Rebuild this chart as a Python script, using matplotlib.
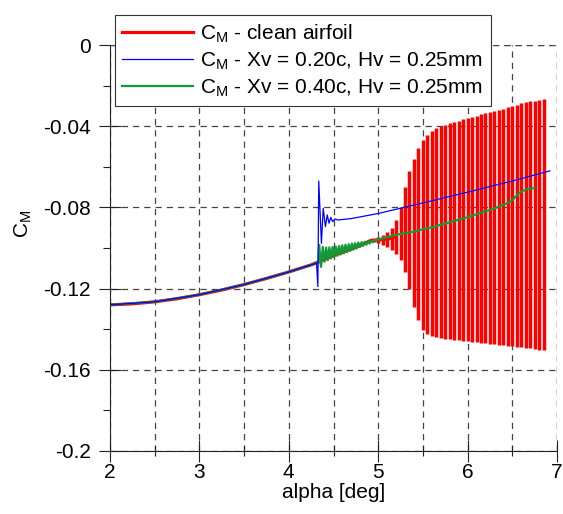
import numpy as np
import matplotlib
matplotlib.use("Agg")
import matplotlib.pyplot as plt
from matplotlib.ticker import MultipleLocator, FuncFormatter

plt.rcParams['font.family'] = ['Liberation Sans', 'DejaVu Sans']
plt.rcParams['mathtext.fontset'] = 'custom'
plt.rcParams['mathtext.rm'] = 'Liberation Sans'
plt.rcParams['mathtext.it'] = 'Liberation Sans'
plt.rcParams['axes.unicode_minus'] = False

# clean airfoil: mean curve
red_alpha = [2.0, 2.25, 2.5, 2.75, 3.0, 3.25, 3.5, 3.75, 4.0, 4.25, 4.5, 4.75, 4.92,
             5.0, 5.1, 5.2]
red_cm = [-0.1280, -0.1275, -0.1265, -0.1250, -0.1230, -0.1207, -0.1180, -0.1150,
          -0.1118, -0.1083, -0.1038, -0.0997, -0.0962, -0.0960, -0.0957, -0.0945]

# clean airfoil: oscillation, one max/min pair per cycle
red_osc_alpha = [4.95, 5.00, 5.05, 5.10, 5.15, 5.20, 5.25, 5.30, 5.35, 5.40,
                 5.45, 5.50, 5.55, 5.60, 5.65, 5.70, 5.75, 5.80, 5.85, 5.90,
                 5.95, 6.00, 6.05, 6.10, 6.15, 6.20, 6.25, 6.30, 6.35, 6.40,
                 6.45, 6.50, 6.55, 6.60, 6.65, 6.70, 6.75, 6.80, 6.85]
red_osc_max = [-0.0955, -0.0945, -0.0935, -0.0920, -0.0900, -0.0860, -0.0800, -0.0700,
               -0.0620, -0.0560, -0.0505, -0.0470, -0.0445, -0.0425, -0.0410, -0.0400,
               -0.0392, -0.0385, -0.0378, -0.0372, -0.0366, -0.0360, -0.0354, -0.0348,
               -0.0342, -0.0337, -0.0331, -0.0325, -0.0319, -0.0313, -0.0306, -0.0300,
               -0.0294, -0.0288, -0.0283, -0.0278, -0.0274, -0.0270, -0.0267]
red_osc_min = [-0.0968, -0.0975, -0.0985, -0.0995, -0.1010, -0.1030, -0.1060, -0.1120,
               -0.1200, -0.1290, -0.1355, -0.1405, -0.1425, -0.1435, -0.1440, -0.1443,
               -0.1446, -0.1450, -0.1452, -0.1455, -0.1458, -0.1460, -0.1462, -0.1465,
               -0.1467, -0.1470, -0.1472, -0.1475, -0.1477, -0.1480, -0.1482, -0.1485,
               -0.1487, -0.1490, -0.1492, -0.1495, -0.1497, -0.1500, -0.1502]

# vortex generator at 0.20c
blue_alpha = [2.0, 2.5, 3.0, 3.5, 4.0, 4.25, 4.31, 4.325, 4.335, 4.365, 4.385, 4.41,
              4.43, 4.45, 4.47, 4.49, 4.515, 4.55, 4.7, 5.0, 5.5, 6.0, 6.5, 6.92]
blue_cm = [-0.1280, -0.1265, -0.1230, -0.1180, -0.1118, -0.1083, -0.1075, -0.1190,
           -0.0670, -0.0977, -0.0805, -0.0895, -0.0837, -0.0878, -0.0849, -0.0870,
           -0.0857, -0.0862, -0.0855, -0.0830, -0.0778, -0.0725, -0.0670, -0.0620]

# vortex generator at 0.40c
green_alpha = [2.0, 2.5, 3.0, 3.5, 4.0, 4.25, 4.33,
               4.340, 4.360, 4.380, 4.400, 4.418, 4.436, 4.454, 4.472, 4.490, 4.508,
               4.526, 4.544, 4.562, 4.580, 4.598, 4.616, 4.634, 4.652, 4.670, 4.688,
               4.706, 4.724, 4.742, 4.760, 4.778, 4.796, 4.814, 4.832, 4.850, 4.868,
               4.886, 4.904, 4.922, 4.940, 4.960,
               5.0, 5.2, 5.39, 5.6, 5.77, 6.0, 6.14, 6.3, 6.44, 6.5, 6.55, 6.6, 6.66, 6.75]
green_cm = [-0.1280, -0.1265, -0.1230, -0.1180, -0.1118, -0.1083, -0.1075,
            -0.0985, -0.1093, -0.0995, -0.1068, -0.0998, -0.1060, -0.0997, -0.1052, -0.0995,
            -0.1045, -0.0993, -0.1038, -0.0990, -0.1032, -0.0987, -0.1026, -0.0984, -0.1020,
            -0.0981, -0.1014, -0.0978, -0.1008, -0.0976, -0.1002, -0.0973, -0.0996, -0.0971,
            -0.0990, -0.0969, -0.0984, -0.0967, -0.0978, -0.0965, -0.0972, -0.0963,
            -0.0958, -0.0935, -0.0920, -0.0898, -0.0877, -0.0848, -0.0828, -0.0805,
            -0.0780, -0.0765, -0.0740, -0.0722, -0.0711, -0.0704]

fig = plt.figure(figsize=(5.63, 5.14), dpi=100)
ax = fig.add_axes([110 / 563, 1 - 451 / 514, 447 / 563, 406 / 514])

l_red, = ax.plot(red_alpha, red_cm, color='#ff0000', lw=2.3)
ax.vlines(red_osc_alpha, red_osc_min, red_osc_max, color='#ff0000', lw=2.5,
          capstyle='butt')
l_green, = ax.plot(green_alpha, green_cm, color='#129a36', lw=1.6)
l_blue, = ax.plot(blue_alpha, blue_cm, color='#0000ff', lw=0.9)

ax.set_xlim(2, 7)
ax.set_ylim(-0.2, 0)
ax.xaxis.set_major_locator(MultipleLocator(1))
ax.xaxis.set_minor_locator(MultipleLocator(0.5))
ax.yaxis.set_major_locator(MultipleLocator(0.04))
ax.yaxis.set_minor_locator(MultipleLocator(0.02))
ax.yaxis.set_major_formatter(FuncFormatter(lambda v, p: '%g' % round(v, 3) if abs(v) > 1e-9 else '0'))

ax.spines['top'].set_visible(False)
ax.spines['right'].set_visible(False)
for s in ['left', 'bottom']:
    ax.spines[s].set_linewidth(0.8)
    ax.spines[s].set_color('#222222')

ax.tick_params(which='major', direction='inout', length=16, width=0.8,
               color='#222222', labelsize=15)
ax.tick_params(axis='x', which='major', pad=1)
ax.tick_params(axis='y', which='major', pad=6)
ax.tick_params(axis='x', which='minor', direction='inout', length=7, width=0.8, color='#222222')
ax.tick_params(axis='y', which='minor', direction='out', length=5, width=0.8, color='#222222')

# dashed grid
ax.grid(True, axis='x', which='both', color='#444444', lw=0.9, ls=(0, (5, 4)))
ax.grid(True, axis='y', which='major', color='#444444', lw=0.9, ls=(0, (5, 4)))
ax.axhline(0, color='#444444', lw=0.9, ls=(0, (5, 4)))
ax.axvline(7, color='#444444', lw=0.9, ls=(0, (5, 4)))

ax.set_xlabel('alpha [deg]', fontsize=15, labelpad=0)
ax.set_ylabel('C$_\\mathrm{M}$', fontsize=15)
ax.yaxis.set_label_coords(-0.17, 0.56)

leg = fig.legend([l_red, l_blue, l_green],
                 ['C$_\\mathrm{M}$ - clean airfoil',
                  'C$_\\mathrm{M}$ - Xv = 0.20c, Hv = 0.25mm',
                  'C$_\\mathrm{M}$ - Xv = 0.40c, Hv = 0.25mm'],
                 loc='upper left', bbox_to_anchor=(115 / 563, 1 - 15 / 514),
                 fontsize=15, fancybox=False, framealpha=1, edgecolor='#333333',
                 handlelength=3.4, handletextpad=0.35, borderpad=0.35,
                 labelspacing=0.28, borderaxespad=0)
leg.get_frame().set_linewidth(0.8)

fig.savefig('out.png', dpi=100)
